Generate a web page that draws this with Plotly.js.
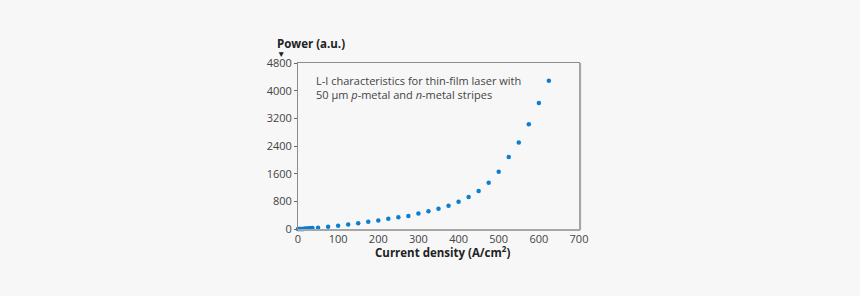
<!DOCTYPE html>
<html>
<head>
<meta charset="utf-8">
<script src="https://cdn.plot.ly/plotly-3.0.1.min.js"></script>
<style>html,body{margin:0;padding:0;background:#f7f7f7;}#chart{width:860px;height:296px;}</style>
</head>
<body>
<div id="chart"></div>
<script>
// Current density (A/cm^2)
const currentDensity = [0,2,4,6,8,10,12,14,16,18,20,22,24,26,28,30,32,34,36,
  50,75,100,125,150,175,200,225,250,275,300,325,350,375,400,425,450,475,500,525,550,575,600,625];
// Power (a.u.)
const power = [0,0,0,1,1,2,2,3,4,5,6,8,10,12,14,17,20,23,26,
  34,63,92,129,167,207,244,293,339,379,445,512,589,675,790,925,1097,1336,1652,2083,2500,3032,3645,4288];
const xTicks = [0,100,200,300,400,500,600,700];
const yTicks = [0,800,1600,2400,3200,4000,4800];

const font = "'Open Sans', 'Liberation Sans', sans-serif";
const trace = {
  x: currentDensity, y: power, type: 'scatter', mode: 'markers',
  marker: {color: '#0a7fd2', size: 4.5},
  cliponaxis: false, hoverinfo: 'none'
};
const layout = {
  width: 860, height: 296,
  paper_bgcolor: '#f7f7f7', plot_bgcolor: '#f7f7f7',
  margin: {l: 298, r: 280.5, t: 62.5, b: 66.5},
  showlegend: false,
  font: {family: font, size: 11, color: '#444'},
  xaxis: {
    range: [0, 700], tickvals: xTicks, ticktext: xTicks.map(String),
    showgrid: false, zeroline: false, showline: true, mirror: true,
    linecolor: '#8c8c8c', linewidth: 1, ticks: '', ticklen: 0,
    tickfont: {family: font, size: 11, color: '#444'}
  },
  yaxis: {
    range: [0, 4800], tickvals: yTicks, ticktext: yTicks.map(String),
    showgrid: false, zeroline: false, showline: true, mirror: true,
    linecolor: '#8c8c8c', linewidth: 1, ticks: 'outside', ticklen: 3, tickcolor: '#666',
    tickfont: {family: font, size: 11, color: '#444'}
  },
  shapes: [
    {type: 'line', xref: 'paper', yref: 'paper', x0: 1.004, x1: 1.004, y0: -0.006, y1: 1, line: {color: '#a6a6a6', width: 2}},
    {type: 'line', xref: 'paper', yref: 'paper', x0: 0, x1: 1.004, y0: -0.006, y1: -0.006, line: {color: '#a6a6a6', width: 2}}
  ],
  annotations: [
    {xref: 'paper', yref: 'paper', x: 0.058, y: 0.95, xanchor: 'left', yanchor: 'top', align: 'left', showarrow: false,
     text: 'L-I characteristics for thin-film laser with<br>50 µm <i>p</i>-metal and <i>n</i>-metal stripes',
     font: {family: font, size: 11, color: '#444'}},
    {xref: 'paper', yref: 'paper', x: -0.083, y: 1.06, xanchor: 'left', yanchor: 'bottom', showarrow: false,
     text: '<b>Power (a.u.)</b>', font: {family: font, size: 11.5, color: '#222'}},
    {xref: 'paper', yref: 'paper', x: -0.081, y: 1.01, xanchor: 'left', yanchor: 'bottom', showarrow: false,
     text: '▼', font: {family: font, size: 8.5, color: '#222'}},
    {xref: 'paper', yref: 'paper', x: 0.515, y: -0.075, xanchor: 'center', yanchor: 'top', showarrow: false,
     text: '<b>Current density (A/cm<sup>2</sup>)</b>', font: {family: font, size: 11.5, color: '#222'}}
  ]
};
Plotly.newPlot('chart', [trace], layout, {displayModeBar: false, staticPlot: true});
</script>
</body>
</html>
